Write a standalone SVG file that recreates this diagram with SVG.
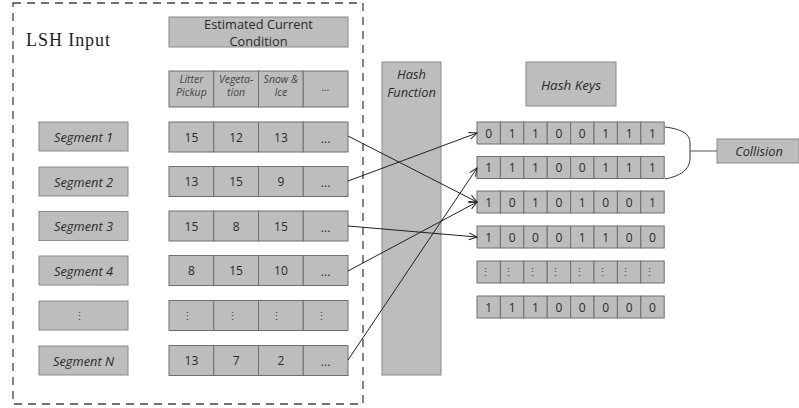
<svg xmlns="http://www.w3.org/2000/svg" width="799" height="408" viewBox="0 0 799 408">
<defs>
<style>
.box{fill:#bdbdbd;stroke:#8a8a8a;stroke-width:1}
.cell{fill:#bdbdbd;stroke:#6f6f6f;stroke-width:1}
.t{font-family:"Open Sans","Liberation Sans",sans-serif;fill:#2a2a2a;text-anchor:middle;dominant-baseline:central}
.i{font-style:italic}
.s{font-size:12.8px}
.h{font-size:10.5px;fill:#444}
.k{font-size:12px}
.g{font-size:12.8px}
.c{fill:none;stroke:#222;stroke-width:1}
</style>
<marker id="ah" markerWidth="10" markerHeight="10" refX="9" refY="4" orient="auto" markerUnits="userSpaceOnUse">
<path d="M1,0.5 L9,4 L1,7.5" fill="none" stroke="#222" stroke-width="1"/>
</marker>
</defs>
<rect width="799" height="408" fill="#ffffff"/>
<g id="lsh-input">
<rect x="13" y="3" width="350" height="401" fill="none" stroke="#444" stroke-width="1.3" stroke-dasharray="8,6"/>
<text x="26" y="46" font-family="Liberation Serif,serif" font-size="18" fill="#222" textLength="84">LSH Input</text>
</g>
<g id="condition-title">
<rect class="box" x="169" y="17" width="179" height="30"/>
<text class="t s" x="258.5" y="24">Estimated Current</text>
<text class="t s" x="258.5" y="40.5">Condition</text>
</g>
<g id="header-row">
<rect class="cell" x="169" y="71" width="44.75" height="36"/>
<rect class="cell" x="213.75" y="71" width="44.75" height="36"/>
<rect class="cell" x="258.5" y="71" width="44.75" height="36"/>
<rect class="cell" x="303.25" y="71" width="44.75" height="36"/>
<text class="t i h" x="191.4" y="79">Litter</text><text class="t i h" x="191.4" y="92">Pickup</text>
<text class="t i h" x="236.1" y="79">Vegeta-</text><text class="t i h" x="236.1" y="92">tion</text>
<text class="t i h" x="280.9" y="79">Snow &amp;</text><text class="t i h" x="280.9" y="92">Ice</text>
<text class="t i h" x="325.6" y="87">...</text>
</g>
<g id="segment-1">
<rect class="box" x="39" y="122" width="89" height="29"/>
<text class="t i g" x="83.5" y="136.5">Segment 1</text>
<rect class="cell" x="169" y="122" width="44.75" height="30"/><rect class="cell" x="213.75" y="122" width="44.75" height="30"/><rect class="cell" x="258.5" y="122" width="44.75" height="30"/><rect class="cell" x="303.25" y="122" width="44.75" height="30"/>
<text class="t k" x="191.4" y="137">15</text><text class="t k" x="236.1" y="137">12</text><text class="t k" x="280.9" y="137">13</text><text class="t k" x="325.6" y="138">...</text>
</g>
<g id="segment-2">
<rect class="box" x="39" y="167" width="89" height="29"/>
<text class="t i g" x="83.5" y="181.5">Segment 2</text>
<rect class="cell" x="169" y="166.5" width="44.75" height="30"/><rect class="cell" x="213.75" y="166.5" width="44.75" height="30"/><rect class="cell" x="258.5" y="166.5" width="44.75" height="30"/><rect class="cell" x="303.25" y="166.5" width="44.75" height="30"/>
<text class="t k" x="191.4" y="181.5">13</text><text class="t k" x="236.1" y="181.5">15</text><text class="t k" x="280.9" y="181.5">9</text><text class="t k" x="325.6" y="182.5">...</text>
</g>
<g id="segment-3">
<rect class="box" x="39" y="211.5" width="89" height="29"/>
<text class="t i g" x="83.5" y="226">Segment 3</text>
<rect class="cell" x="169" y="211" width="44.75" height="30"/><rect class="cell" x="213.75" y="211" width="44.75" height="30"/><rect class="cell" x="258.5" y="211" width="44.75" height="30"/><rect class="cell" x="303.25" y="211" width="44.75" height="30"/>
<text class="t k" x="191.4" y="226">15</text><text class="t k" x="236.1" y="226">8</text><text class="t k" x="280.9" y="226">15</text><text class="t k" x="325.6" y="227">...</text>
</g>
<g id="segment-4">
<rect class="box" x="39" y="256" width="89" height="29"/>
<text class="t i g" x="83.5" y="270.5">Segment 4</text>
<rect class="cell" x="169" y="255.5" width="44.75" height="30"/><rect class="cell" x="213.75" y="255.5" width="44.75" height="30"/><rect class="cell" x="258.5" y="255.5" width="44.75" height="30"/><rect class="cell" x="303.25" y="255.5" width="44.75" height="30"/>
<text class="t k" x="191.4" y="270.5">8</text><text class="t k" x="236.1" y="270.5">15</text><text class="t k" x="280.9" y="270.5">10</text><text class="t k" x="325.6" y="271.5">...</text>
</g>
<g id="segment-dots">
<rect class="box" x="39" y="301" width="89" height="29"/>
<text class="t h" x="79.5" y="315.5">⋮</text>
<rect class="cell" x="169" y="300.5" width="44.75" height="30"/><rect class="cell" x="213.75" y="300.5" width="44.75" height="30"/><rect class="cell" x="258.5" y="300.5" width="44.75" height="30"/><rect class="cell" x="303.25" y="300.5" width="44.75" height="30"/>
<text class="t h" x="187" y="315.5">⋮</text><text class="t h" x="232" y="315.5">⋮</text><text class="t h" x="276.5" y="315.5">⋮</text><text class="t h" x="321.5" y="315.5">⋮</text>
</g>
<g id="segment-n">
<rect class="box" x="39" y="346" width="89" height="29"/>
<text class="t i g" x="83.5" y="360.5">Segment N</text>
<rect class="cell" x="169" y="345.5" width="44.75" height="30"/><rect class="cell" x="213.75" y="345.5" width="44.75" height="30"/><rect class="cell" x="258.5" y="345.5" width="44.75" height="30"/><rect class="cell" x="303.25" y="345.5" width="44.75" height="30"/>
<text class="t k" x="191.4" y="360.5">13</text><text class="t k" x="236.1" y="360.5">7</text><text class="t k" x="280.9" y="360.5">2</text><text class="t k" x="325.6" y="361.5">...</text>
</g>
<g id="hash-function">
<rect class="box" x="382" y="62" width="59" height="313"/>
<text class="t i g" x="411.5" y="74">Hash</text>
<text class="t i g" x="411.5" y="92">Function</text>
</g>
<g id="hash-keys-title">
<rect class="box" x="526" y="62" width="90" height="44"/>
<text class="t i" x="571" y="84.5" font-size="13.5">Hash Keys</text>
</g>
<g id="hash-key-1">
<rect class="cell" x="477" y="122" width="23.4" height="22"/><rect class="cell" x="500.4" y="122" width="23.4" height="22"/><rect class="cell" x="523.8" y="122" width="23.4" height="22"/><rect class="cell" x="547.2" y="122" width="23.4" height="22"/><rect class="cell" x="570.6" y="122" width="23.4" height="22"/><rect class="cell" x="594" y="122" width="23.4" height="22"/><rect class="cell" x="617.4" y="122" width="23.4" height="22"/><rect class="cell" x="640.8" y="122" width="23.4" height="22"/>
<text class="t k" x="488.7" y="133">0</text><text class="t k" x="512.1" y="133">1</text><text class="t k" x="535.5" y="133">1</text><text class="t k" x="558.9" y="133">0</text><text class="t k" x="582.3" y="133">0</text><text class="t k" x="605.7" y="133">1</text><text class="t k" x="629.1" y="133">1</text><text class="t k" x="652.5" y="133">1</text>
</g>
<g id="hash-key-2">
<rect class="cell" x="477" y="156.5" width="23.4" height="22"/><rect class="cell" x="500.4" y="156.5" width="23.4" height="22"/><rect class="cell" x="523.8" y="156.5" width="23.4" height="22"/><rect class="cell" x="547.2" y="156.5" width="23.4" height="22"/><rect class="cell" x="570.6" y="156.5" width="23.4" height="22"/><rect class="cell" x="594" y="156.5" width="23.4" height="22"/><rect class="cell" x="617.4" y="156.5" width="23.4" height="22"/><rect class="cell" x="640.8" y="156.5" width="23.4" height="22"/>
<text class="t k" x="488.7" y="167.5">1</text><text class="t k" x="512.1" y="167.5">1</text><text class="t k" x="535.5" y="167.5">1</text><text class="t k" x="558.9" y="167.5">0</text><text class="t k" x="582.3" y="167.5">0</text><text class="t k" x="605.7" y="167.5">1</text><text class="t k" x="629.1" y="167.5">1</text><text class="t k" x="652.5" y="167.5">1</text>
</g>
<g id="hash-key-3">
<rect class="cell" x="477" y="191" width="23.4" height="22"/><rect class="cell" x="500.4" y="191" width="23.4" height="22"/><rect class="cell" x="523.8" y="191" width="23.4" height="22"/><rect class="cell" x="547.2" y="191" width="23.4" height="22"/><rect class="cell" x="570.6" y="191" width="23.4" height="22"/><rect class="cell" x="594" y="191" width="23.4" height="22"/><rect class="cell" x="617.4" y="191" width="23.4" height="22"/><rect class="cell" x="640.8" y="191" width="23.4" height="22"/>
<text class="t k" x="488.7" y="202">1</text><text class="t k" x="512.1" y="202">0</text><text class="t k" x="535.5" y="202">1</text><text class="t k" x="558.9" y="202">0</text><text class="t k" x="582.3" y="202">1</text><text class="t k" x="605.7" y="202">0</text><text class="t k" x="629.1" y="202">0</text><text class="t k" x="652.5" y="202">1</text>
</g>
<g id="hash-key-4">
<rect class="cell" x="477" y="226" width="23.4" height="22"/><rect class="cell" x="500.4" y="226" width="23.4" height="22"/><rect class="cell" x="523.8" y="226" width="23.4" height="22"/><rect class="cell" x="547.2" y="226" width="23.4" height="22"/><rect class="cell" x="570.6" y="226" width="23.4" height="22"/><rect class="cell" x="594" y="226" width="23.4" height="22"/><rect class="cell" x="617.4" y="226" width="23.4" height="22"/><rect class="cell" x="640.8" y="226" width="23.4" height="22"/>
<text class="t k" x="488.7" y="237">1</text><text class="t k" x="512.1" y="237">0</text><text class="t k" x="535.5" y="237">0</text><text class="t k" x="558.9" y="237">0</text><text class="t k" x="582.3" y="237">1</text><text class="t k" x="605.7" y="237">1</text><text class="t k" x="629.1" y="237">0</text><text class="t k" x="652.5" y="237">0</text>
</g>
<g id="hash-key-dots">
<rect class="cell" x="477" y="261" width="23.4" height="22"/><rect class="cell" x="500.4" y="261" width="23.4" height="22"/><rect class="cell" x="523.8" y="261" width="23.4" height="22"/><rect class="cell" x="547.2" y="261" width="23.4" height="22"/><rect class="cell" x="570.6" y="261" width="23.4" height="22"/><rect class="cell" x="594" y="261" width="23.4" height="22"/><rect class="cell" x="617.4" y="261" width="23.4" height="22"/><rect class="cell" x="640.8" y="261" width="23.4" height="22"/>
<text class="t h" x="485.5" y="272">⋮</text><text class="t h" x="508.9" y="272">⋮</text><text class="t h" x="532.3" y="272">⋮</text><text class="t h" x="555.7" y="272">⋮</text><text class="t h" x="579.1" y="272">⋮</text><text class="t h" x="602.5" y="272">⋮</text><text class="t h" x="625.9" y="272">⋮</text><text class="t h" x="649.3" y="272">⋮</text>
</g>
<g id="hash-key-n">
<rect class="cell" x="477" y="296" width="23.4" height="22"/><rect class="cell" x="500.4" y="296" width="23.4" height="22"/><rect class="cell" x="523.8" y="296" width="23.4" height="22"/><rect class="cell" x="547.2" y="296" width="23.4" height="22"/><rect class="cell" x="570.6" y="296" width="23.4" height="22"/><rect class="cell" x="594" y="296" width="23.4" height="22"/><rect class="cell" x="617.4" y="296" width="23.4" height="22"/><rect class="cell" x="640.8" y="296" width="23.4" height="22"/>
<text class="t k" x="488.7" y="307">1</text><text class="t k" x="512.1" y="307">1</text><text class="t k" x="535.5" y="307">1</text><text class="t k" x="558.9" y="307">0</text><text class="t k" x="582.3" y="307">0</text><text class="t k" x="605.7" y="307">0</text><text class="t k" x="629.1" y="307">0</text><text class="t k" x="652.5" y="307">0</text>
</g>
<g id="collision">
<rect class="box" x="717" y="139" width="82" height="24"/>
<text class="t i" x="759" y="151" font-size="12.8">Collision</text>
</g>
<g id="connectors">
<path class="c" d="M348,136 L477,202" marker-end="url(#ah)"/>
<path class="c" d="M348,181 L477,133" marker-end="url(#ah)"/>
<path class="c" d="M348,226 L477,237" marker-end="url(#ah)"/>
<path class="c" d="M348,271 L477,202" marker-end="url(#ah)"/>
<path class="c" d="M348,360 L477,168" marker-end="url(#ah)"/>
<path d="M665,127 C680,129 690,133 690,143 L690,158 C690,170 680,176 665,179" fill="none" stroke="#333" stroke-width="1"/>
<path d="M690,151 L717,151" fill="none" stroke="#555" stroke-width="1"/>
</g>
</svg>
